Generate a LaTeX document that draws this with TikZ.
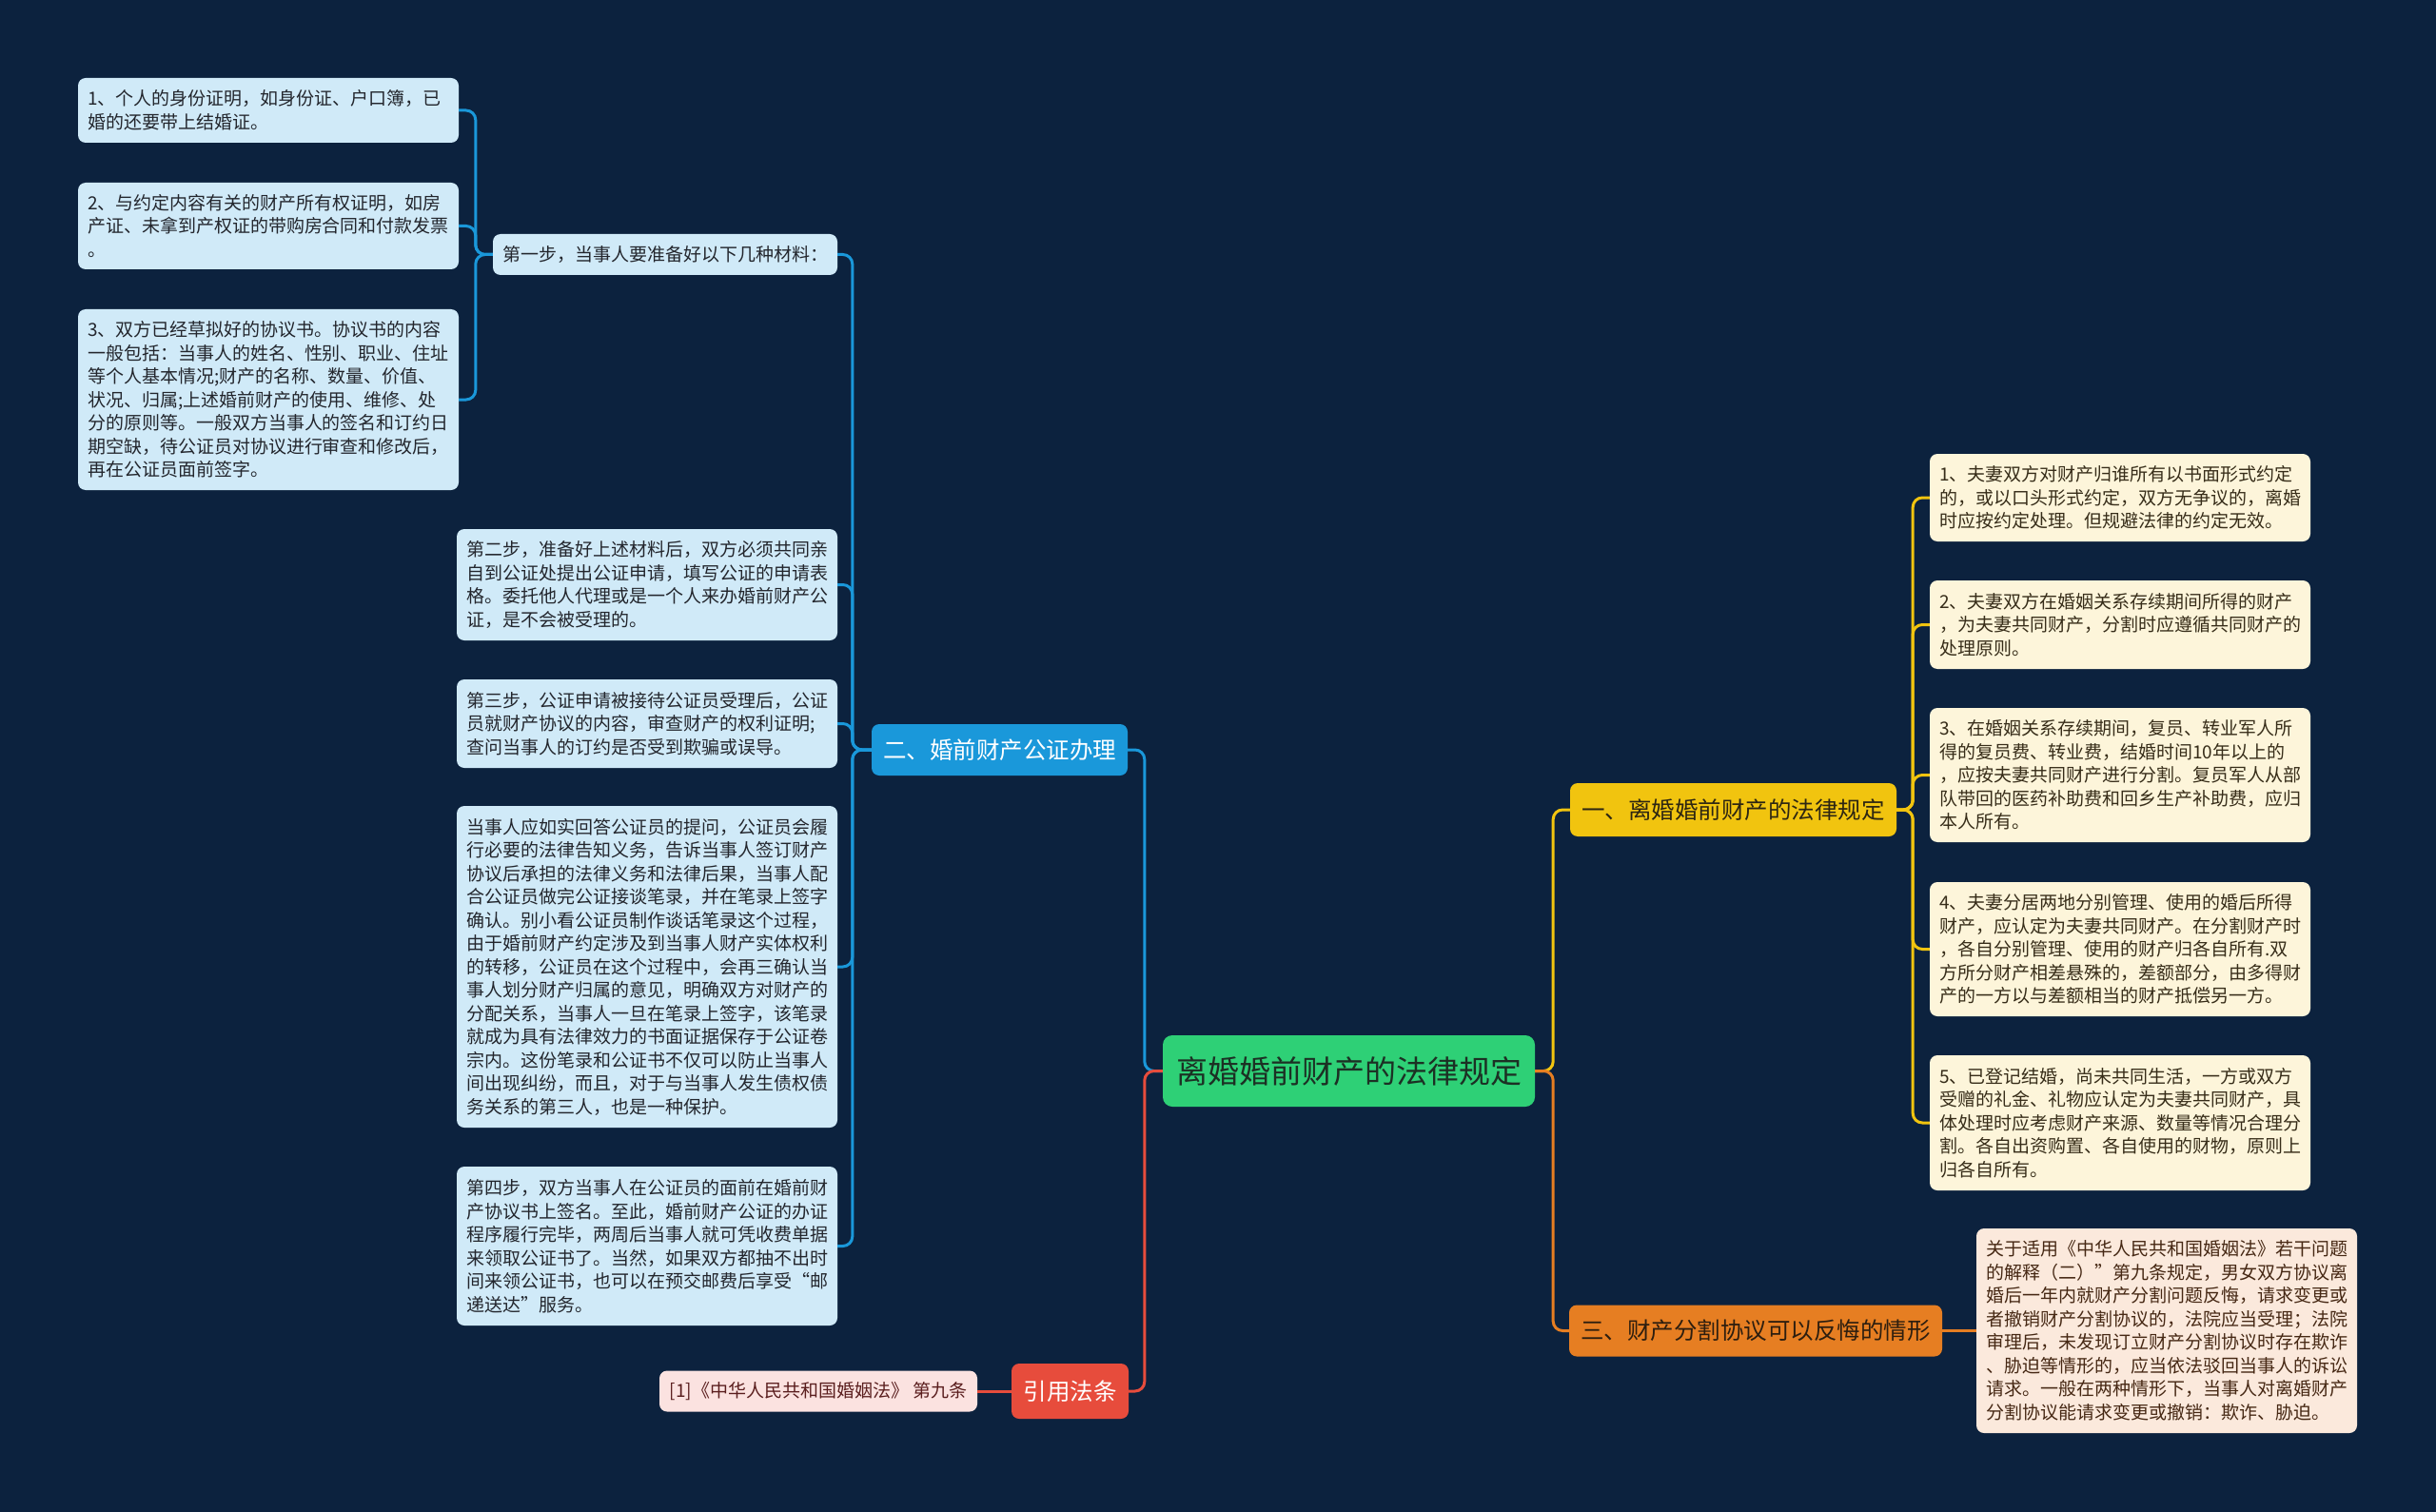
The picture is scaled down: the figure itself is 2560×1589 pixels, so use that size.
\documentclass[tikz,border=0pt]{standalone}
\usepackage{fontspec}
\setmainfont{Noto Sans CJK SC}
\definecolor{bgc}{RGB}{12,34,62}
\definecolor{cblue}{RGB}{26,152,218}
\definecolor{lbfill}{RGB}{208,234,248}
\definecolor{lbtext}{RGB}{35,38,45}
\definecolor{cgreen}{RGB}{46,208,118}
\definecolor{gtext}{RGB}{28,48,36}
\definecolor{cyellow}{RGB}{241,196,15}
\definecolor{ytext}{RGB}{45,38,18}
\definecolor{cream}{RGB}{253,245,218}
\definecolor{creamtext}{RGB}{55,45,25}
\definecolor{corange}{RGB}{230,126,34}
\definecolor{otext}{RGB}{45,30,15}
\definecolor{peach}{RGB}{251,233,220}
\definecolor{peachtext}{RGB}{70,40,20}
\definecolor{cred}{RGB}{231,76,60}
\definecolor{pink}{RGB}{251,226,224}
\definecolor{pinktext}{RGB}{90,30,30}
\tikzset{
  box/.style={rounded corners=8pt, inner xsep=10pt, inner ysep=0pt, font=\fontsize{19}{24.5}\selectfont},
  leafL/.style={box, fill=lbfill, text=lbtext, text width=380pt, align=left},
  leafR/.style={box, fill=cream, text=creamtext, text width=380pt, align=left},
  leafO/.style={box, fill=peach, text=peachtext, text width=380pt, align=left},
  mid/.style={rounded corners=8pt, inner xsep=12pt, inner ysep=0pt, font=\fontsize{24.5}{30}\selectfont},
  conn/.style={line width=3pt, rounded corners=10pt},
  cB/.style={conn, draw=cblue},
  cY/.style={conn, draw=cyellow},
  cO/.style={conn, draw=corange},
  cR/.style={conn, draw=cred}
}
\begin{document}
\begin{tikzpicture}[x=1pt, y=-1pt]
\fill[bgc] (0,0) rectangle (2560,1589);
\useasboundingbox (0,0) rectangle (2560,1589);

% root
\node[rounded corners=10pt, fill=cgreen, text=gtext, minimum width=391pt, minimum height=75pt, inner sep=0pt, font=\fontsize{33}{38}\selectfont] (root) at (1417.5,1125.5) {离婚婚前财产的法律规定};

% level 1
\node[mid, fill=cblue, text=white, minimum width=269pt, minimum height=54pt] (b2) at (1050.5,788) {二、婚前财产公证办理};
\node[mid, fill=cred, text=white, minimum width=123pt, minimum height=58pt] (cite) at (1124.5,1462) {引用法条};
\node[mid, fill=cyellow, text=ytext, minimum width=343pt, minimum height=56pt] (b1) at (1821.5,851) {一、离婚婚前财产的法律规定};
\node[mid, fill=corange, text=otext, minimum width=392pt, minimum height=54pt] (b3) at (1845,1398.5) {三、财产分割协议可以反悔的情形};

% left branch
\node[box, fill=lbfill, text=lbtext, minimum width=362pt, minimum height=43pt] (s1) at (699,267.5) {第一步，当事人要准备好以下几种材料：};
\node[leafL, minimum height=68pt] (a1) at (282,116) {1、个人的身份证明，如身份证、户口簿，已\\婚的还要带上结婚证。};
\node[leafL, minimum height=91pt] (a2) at (282,237.5) {2、与约定内容有关的财产所有权证明，如房\\产证、未拿到产权证的带购房合同和付款发票\\。};
\node[leafL, minimum height=190pt] (a3) at (282,420) {3、双方已经草拟好的协议书。协议书的内容\\一般包括：当事人的姓名、性别、职业、住址\\等个人基本情况;财产的名称、数量、价值、\\状况、归属;上述婚前财产的使用、维修、处\\分的原则等。一般双方当事人的签名和订约日\\期空缺，待公证员对协议进行审查和修改后，\\再在公证员面前签字。};
\node[leafL, minimum height=117pt] (s2) at (680,614.5) {第二步，准备好上述材料后，双方必须共同亲\\自到公证处提出公证申请，填写公证的申请表\\格。委托他人代理或是一个人来办婚前财产公\\证，是不会被受理的。};
\node[leafL, minimum height=93pt] (s3) at (680,760.5) {第三步，公证申请被接待公证员受理后，公证\\员就财产协议的内容，审查财产的权利证明;\\查问当事人的订约是否受到欺骗或误导。};
\node[leafL, minimum height=338pt] (s4) at (680,1016) {当事人应如实回答公证员的提问，公证员会履\\行必要的法律告知义务，告诉当事人签订财产\\协议后承担的法律义务和法律后果，当事人配\\合公证员做完公证接谈笔录，并在笔录上签字\\确认。别小看公证员制作谈话笔录这个过程，\\由于婚前财产约定涉及到当事人财产实体权利\\的转移，公证员在这个过程中，会再三确认当\\事人划分财产归属的意见，明确双方对财产的\\分配关系，当事人一旦在笔录上签字，该笔录\\就成为具有法律效力的书面证据保存于公证卷\\宗内。这份笔录和公证书不仅可以防止当事人\\间出现纠纷，而且，对于与当事人发生债权债\\务关系的第三人，也是一种保护。};
\node[leafL, minimum height=167pt] (s5) at (680,1309.5) {第四步，双方当事人在公证员的面前在婚前财\\产协议书上签名。至此，婚前财产公证的办证\\程序履行完毕，两周后当事人就可凭收费单据\\来领取公证书了。当然，如果双方都抽不出时\\间来领公证书，也可以在预交邮费后享受“邮\\递送达”服务。};
\node[box, fill=pink, text=pinktext, minimum width=334pt, minimum height=43pt] (ref) at (860,1462) {[1]《中华人民共和国婚姻法》 第九条};

% right branch
\node[leafR, minimum height=92pt] (r1) at (2228,523) {1、夫妻双方对财产归谁所有以书面形式约定\\的，或以口头形式约定，双方无争议的，离婚\\时应按约定处理。但规避法律的约定无效。};
\node[leafR, minimum height=93pt] (r2) at (2228,656.5) {2、夫妻双方在婚姻关系存续期间所得的财产\\，为夫妻共同财产，分割时应遵循共同财产的\\处理原则。};
\node[leafR, minimum height=141pt] (r3) at (2228,814.5) {3、在婚姻关系存续期间，复员、转业军人所\\得的复员费、转业费，结婚时间10年以上的\\，应按夫妻共同财产进行分割。复员军人从部\\队带回的医药补助费和回乡生产补助费，应归\\本人所有。};
\node[leafR, minimum height=141pt] (r4) at (2228,997.5) {4、夫妻分居两地分别管理、使用的婚后所得\\财产，应认定为夫妻共同财产。在分割财产时\\，各自分别管理、使用的财产归各自所有.双\\方所分财产相差悬殊的，差额部分，由多得财\\产的一方以与差额相当的财产抵偿另一方。};
\node[leafR, minimum height=142pt] (r5) at (2228,1180) {5、已登记结婚，尚未共同生活，一方或双方\\受赠的礼金、礼物应认定为夫妻共同财产，具\\体处理时应考虑财产来源、数量等情况合理分\\割。各自出资购置、各自使用的财物，原则上\\归各自所有。};
\node[leafO, minimum height=215pt] (r6) at (2277,1398.5) {关于适用《中华人民共和国婚姻法》若干问题\\的解释（二）”第九条规定，男女双方协议离\\婚后一年内就财产分割问题反悔，请求变更或\\者撤销财产分割协议的，法院应当受理；法院\\审理后，未发现订立财产分割协议时存在欺诈\\、胁迫等情形的，应当依法驳回当事人的诉讼\\请求。一般在两种情形下，当事人对离婚财产\\分割协议能请求变更或撤销：欺诈、胁迫。};

% connectors
\draw[cB] (root.west) -- ([xshift=-19pt]root.west) |- (b2.east);
\draw[cR] (root.west) -- ([xshift=-19pt]root.west) |- (cite.east);
\draw[cR] (cite.west) -- (ref.east);
\foreach \n in {s1,s2,s3,s4,s5}
  \draw[cB] (b2.west) -- ([xshift=-20pt]b2.west) |- (\n.east);
\foreach \n in {a1,a2,a3}
  \draw[cB] (s1.west) -- ([xshift=-18pt]s1.west) |- (\n.east);
\draw[cY] (root.east) -- ([xshift=19pt]root.east) |- (b1.west);
\draw[cO] (root.east) -- ([xshift=19pt]root.east) |- (b3.west);
\foreach \n in {r1,r2,r3,r4,r5}
  \draw[cY] (b1.east) -- ([xshift=17pt]b1.east) |- (\n.west);
\draw[cO] (b3.east) -- (r6.west);
\end{tikzpicture}
\end{document}
